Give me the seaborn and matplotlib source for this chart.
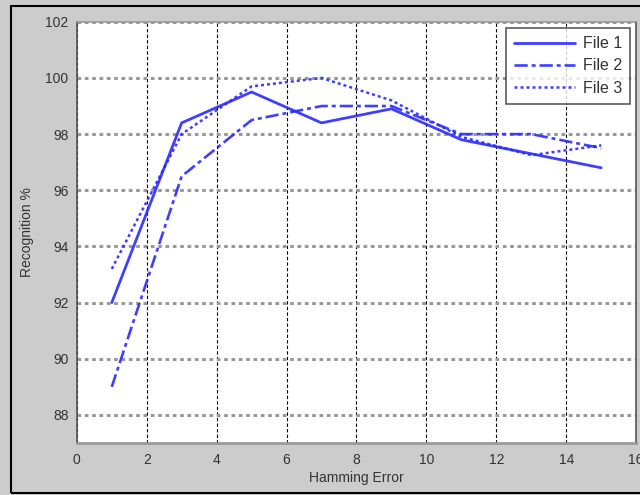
import numpy as np
import pandas as pd
import matplotlib
matplotlib.use("Agg")
import matplotlib.pyplot as plt
import seaborn as sns
from matplotlib.patches import Rectangle

hamming = [1, 3, 5, 7, 9, 11, 13, 15]
file1 = [92.0, 98.4, 99.5, 98.4, 98.9, 97.8, 97.3, 96.8]
file2 = [89.0, 96.5, 98.5, 99.0, 99.0, 98.0, 98.0, 97.5]
file3 = [93.2, 98.0, 99.7, 100.0, 99.2, 97.9, 97.25, 97.6]
series_names = ["File 1", "File 2", "File 3"]

df = pd.DataFrame({"x": hamming * 3,
                   "y": file1 + file2 + file3,
                   "series": [n for n in series_names for _ in hamming]})

sns.set_style("white")
plt.rcParams['font.family'] = ['Liberation Sans', 'DejaVu Sans']

fig = plt.figure(figsize=(6.4, 4.95), dpi=100)
fig.patch.set_facecolor("#cccccc")
ax = fig.add_axes([0.120, 0.105, 0.874, 0.851])
ax.set_facecolor("white")

styles = {"File 1": dict(ls="-", lw=2.0),
          "File 2": dict(ls=(0, (5, 1.5, 1.5, 1.5)), lw=1.9),
          "File 3": dict(ls=(0, (1.2, 1.2)), lw=1.8)}
blue = "#2a2aff"
for name in series_names:
    sub = df[df["series"] == name]
    sns.lineplot(data=sub, x="x", y="y", ax=ax, color=blue, label=name,
                 linestyle=styles[name]["ls"], linewidth=styles[name]["lw"],
                 alpha=0.9)

ax.set_xlim(0, 16)
ax.set_ylim(87, 102)
ax.set_xticks(np.arange(0, 17, 2))
ax.set_yticks(np.arange(88, 103, 2))
ax.set_xticklabels([str(v) for v in range(0, 17, 2)])
ax.set_yticklabels(["88", "90", "92", "94", "96", "98", "100", "102"])
ax.tick_params(direction="in", length=4, labelsize=10, colors="#333333",
               labelcolor="#333333")
ax.tick_params(axis="x", pad=7)
ax.tick_params(axis="y", pad=6)

ax.xaxis.grid(True, color="black", linestyle=(0, (3, 2)), linewidth=0.8)
ax.yaxis.grid(True, color="#999999", linestyle=(0, (1.2, 1.2)), linewidth=2.2)
ax.set_axisbelow(True)

for side in ["left", "bottom", "top", "right"]:
    ax.spines[side].set_color("#555555")
    ax.spines[side].set_linewidth(1.2)
ax.spines["top"].set_color("#999999")
ax.spines["bottom"].set_color("#999999")
ax.spines["bottom"].set_linewidth(2)

ax.set_xlabel("Hamming Error", fontsize=10, color="#333333", labelpad=3)
ax.set_ylabel("Recognition %", fontsize=10, color="#333333", labelpad=8)

leg = ax.legend(loc="upper right", fontsize=11.5, frameon=True, fancybox=False,
                handlelength=3.8, borderaxespad=0.4, labelspacing=0.45,
                handletextpad=0.5, borderpad=0.5)
leg.get_frame().set_edgecolor("#333333")
leg.get_frame().set_linewidth(1.2)
for t in leg.get_texts():
    t.set_color("#333333")

fig.patches.append(Rectangle((0.017, 0.004), 1.2, 0.984, transform=fig.transFigure,
                             fill=False, edgecolor="black", linewidth=1.5,
                             clip_on=False))

fig.savefig("out.png", dpi=100, facecolor=fig.get_facecolor())
